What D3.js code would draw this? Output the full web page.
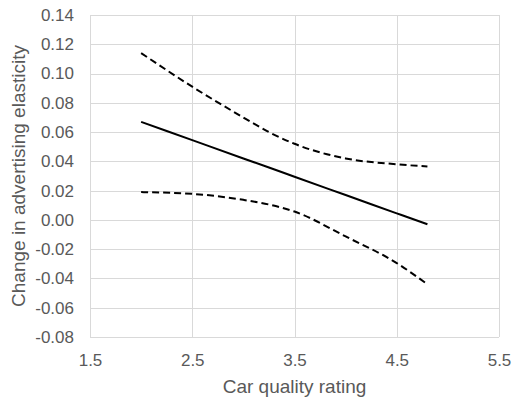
<!DOCTYPE html>
<html>
<head>
<meta charset="utf-8">
<script src="https://cdnjs.cloudflare.com/ajax/libs/d3/7.8.5/d3.min.js"></script>
<style>
body{margin:0;background:#fff;}
svg text{font-family:"Liberation Sans",Arial,sans-serif;fill:#595959;}
</style>
</head>
<body>
<div id="chart"></div>
<script>
// data
var quality = [2.0, 2.5, 3.0, 3.25, 3.5, 4.0, 4.5, 4.8];
var effect  = [0.067, 0.0545, 0.042, 0.0358, 0.0295, 0.017, 0.0045, -0.003];
var upper   = [0.114, 0.091, 0.070, 0.060, 0.052, 0.042, 0.038, 0.0365];
var lower   = [0.019, 0.0178, 0.0137, 0.0105, 0.0057, -0.0113, -0.0295, -0.044];
var xTicks = [1.5, 2.5, 3.5, 4.5, 5.5];
var yTicks = [-0.08, -0.06, -0.04, -0.02, 0, 0.02, 0.04, 0.06, 0.08, 0.10, 0.12, 0.14];

var W=516, H=402;
var m={left:90, right:17, top:15, bottom:65};

// plain hyphen for negatives, like the original
var loc=d3.formatLocale({decimal:'.',thousands:',',grouping:[3],currency:['',''],minus:'-'});

var svg=d3.select('#chart').append('svg')
    .attr('width',W).attr('height',H);

var x=d3.scaleLinear().domain([1.5,5.5]).range([m.left, W-m.right]);
var y=d3.scaleLinear().domain([-0.08,0.14]).range([H-m.bottom, m.top]);

// gridlines
var grid=svg.append('g').attr('stroke','#d9d9d9').attr('stroke-width',1);
grid.selectAll('line.h').data(yTicks).enter().append('line')
    .attr('x1',x(1.5)).attr('x2',x(5.5))
    .attr('y1',d=>Math.round(y(d))+0.5).attr('y2',d=>Math.round(y(d))+0.5);
grid.selectAll('line.v').data(xTicks).enter().append('line')
    .attr('y1',y(0.14)).attr('y2',y(-0.08))
    .attr('x1',d=>Math.round(x(d))+0.5).attr('x2',d=>Math.round(x(d))+0.5);

// axes (labels only)
var yAxis=svg.append('g').attr('transform','translate('+(m.left)+',0)')
    .call(d3.axisLeft(y).tickValues(yTicks).tickFormat(loc.format('.2f')).tickSize(0).tickPadding(16));
var xAxis=svg.append('g').attr('transform','translate(0,'+(H-m.bottom)+')')
    .call(d3.axisBottom(x).tickValues(xTicks).tickFormat(loc.format('.1f')).tickSize(0).tickPadding(17));
[yAxis,xAxis].forEach(function(a){
    a.select('.domain').remove();
    a.selectAll('text').style('font-size','17px').attr('fill','#595959');
});

var line=d3.line().curve(d3.curveMonotoneX)
    .x(d=>x(d[0])).y(d=>y(d[1]));

function series(vals){ return quality.map((q,i)=>[q,vals[i]]); }

svg.append('path').datum(series(upper))
    .attr('d',line).attr('fill','none').attr('stroke','#000')
    .attr('stroke-width',2).attr('stroke-dasharray','7,4');
svg.append('path').datum(series(lower))
    .attr('d',line).attr('fill','none').attr('stroke','#000')
    .attr('stroke-width',2).attr('stroke-dasharray','7,4');
svg.append('path').datum(series(effect))
    .attr('d',line).attr('fill','none').attr('stroke','#000')
    .attr('stroke-width',2);

// titles
svg.append('text').attr('x',(x(1.5)+x(5.5))/2).attr('y',393)
    .attr('text-anchor','middle').style('font-size','19px')
    .text('Car quality rating');
svg.append('text')
    .attr('transform','translate(25,'+((y(0.14)+y(-0.08))/2)+') rotate(-90)')
    .attr('text-anchor','middle').style('font-size','19px')
    .text('Change in advertising elasticity');
</script>
</body>
</html>
